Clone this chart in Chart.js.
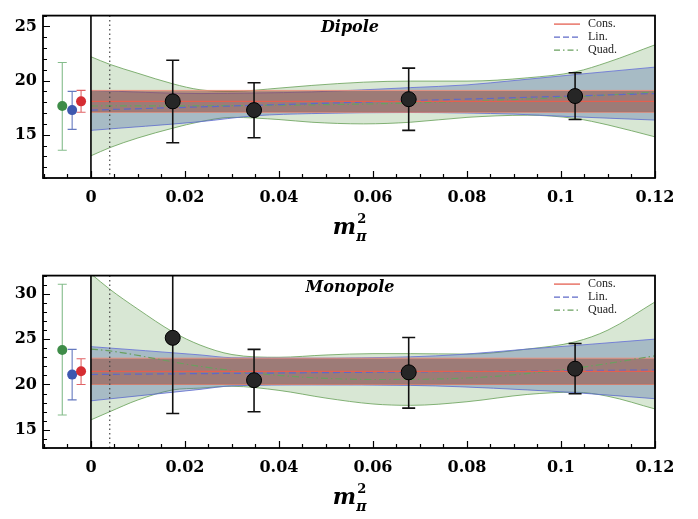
<!DOCTYPE html>
<html><head><meta charset="utf-8">
<script src="https://cdn.jsdelivr.net/npm/chart.js@4.4.0/dist/chart.umd.min.js"></script>
<style>html,body{margin:0;padding:0;background:#fff;}canvas{display:block;}</style>
</head><body>
<canvas id="c1" width="698" height="260"></canvas>
<canvas id="c2" width="698" height="259"></canvas>
<script>
// ---------- data ----------
const xTicks = [0, 0.02, 0.04, 0.06, 0.08, 0.1, 0.12];
const yTicksDipole = [15, 20, 25];
const yTicksMonopole = [15, 20, 25, 30];
const physX = 0.004;           // dotted vertical line
const seriesNames = ['Cons.', 'Lin.', 'Quad.'];
const panelTitles = ['Dipole', 'Monopole'];

// lattice points (black)
const latticeX  = [0.0174, 0.0347, 0.0676, 0.1030];
const dipoleY   = [18.08, 17.27, 18.28, 18.57];
const dipoleLo  = [14.26, 14.72, 15.40, 16.41];
const dipoleHi  = [21.87, 19.80, 21.15, 20.72];
const monoY     = [25.14, 20.47, 21.34, 21.74];
const monoLo    = [16.80, 16.99, 17.39, 18.98];
const monoHi    = [33.50, 23.87, 25.17, 24.52];

// extrapolated values (quad, lin, cons)
const extrapX       = [-0.0061, -0.0040, -0.0021];
const dipoleExtY    = [17.65, 17.27, 18.08];
const dipoleExtLo   = [13.57, 15.49, 17.07];
const dipoleExtHi   = [21.67, 19.00, 19.09];
const monoExtY      = [23.80, 21.09, 21.45];
const monoExtLo     = [16.63, 18.30, 20.00];
const monoExtHi     = [31.04, 23.87, 22.83];

// constant fit bands
const consX        = [0, 0.12];
const dipoleConsMid = [18.08, 18.08];
const dipoleConsLo  = [17.07, 17.07];
const dipoleConsHi  = [19.09, 19.09];
const monoConsMid   = [21.45, 21.45];
const monoConsLo    = [20.00, 20.00];
const monoConsHi    = [22.90, 22.90];

// linear fit bands
const lineMidX      = [0, 0.12];
const dipoleLinMid  = [17.27, 18.80];
const monoLinMid    = [21.10, 21.60];
const dipoleLinX    = [0, 0.0232, 0.035, 0.047, 0.068, 0.08, 0.09, 0.103, 0.12];
const dipoleLinHi   = [19.09, 18.80, 18.85, 18.95, 19.35, 19.60, 20.00, 20.55, 21.24];
const dipoleLinLo   = [15.40, 16.20, 16.75, 16.95, 17.05, 17.00, 16.90, 16.65, 16.35];
const monoLinX      = [0, 0.0232, 0.03, 0.047, 0.068, 0.0785, 0.0928, 0.103, 0.12];
const monoLinHi     = [24.17, 23.26, 22.95, 22.90, 23.05, 23.30, 23.90, 24.30, 25.00];
const monoLinLo     = [18.20, 19.46, 19.85, 19.95, 19.90, 19.75, 19.40, 19.10, 18.43];

// quadratic fit bands
const dipoleQuadX   = [0, 0.004, 0.01, 0.0174, 0.0232, 0.03, 0.04, 0.047, 0.058, 0.068, 0.08, 0.0928, 0.103, 0.11, 0.12];
const dipoleQuadHi  = [22.20, 21.50, 20.67, 19.70, 19.15, 19.00, 19.30, 19.55, 19.85, 19.95, 19.95, 20.25, 20.80, 21.70, 23.30];
const dipoleQuadLo  = [13.05, 13.80, 14.70, 15.60, 16.20, 16.60, 16.40, 16.15, 16.00, 16.15, 16.60, 16.80, 16.50, 15.90, 14.80];
const dipoleQuadMidX = [0, 0.035, 0.068, 0.103, 0.12];
const dipoleQuadMid  = [17.65, 17.70, 17.93, 18.50, 18.94];
const monoQuadX     = [0, 0.004, 0.01, 0.0174, 0.0232, 0.03, 0.04, 0.05, 0.06, 0.068, 0.08, 0.0928, 0.103, 0.11, 0.12];
const monoQuadHi    = [32.20, 30.50, 28.30, 25.80, 24.35, 23.30, 23.00, 23.25, 23.40, 23.40, 23.35, 23.90, 24.70, 26.00, 29.10];
const monoQuadLo    = [16.10, 17.00, 18.30, 19.40, 19.60, 19.80, 19.35, 18.50, 17.85, 17.70, 18.10, 18.90, 19.15, 18.70, 17.30];
const monoQuadMidX  = [0, 0.004, 0.0232, 0.04, 0.06, 0.083, 0.103, 0.12];
const monoQuadMid   = [23.90, 23.70, 22.00, 21.00, 20.55, 20.80, 21.80, 23.15];

// ---------- styles ----------
const COL = {
  consLine: 'rgb(228,95,80)', consFill: 'rgba(150,70,55,0.55)', consEdge: 'rgba(238,145,125,0.9)',
  linLine: 'rgb(95,105,200)', linFill: 'rgba(72,102,168,0.34)', linEdge: 'rgba(105,115,215,0.85)',
  quadLine: 'rgb(105,160,95)', quadFill: 'rgba(110,165,95,0.27)', quadEdge: 'rgba(110,165,95,0.85)',
  consPt: 'rgb(214,45,50)', linPt: 'rgb(62,88,175)', quadPt: 'rgb(62,140,72)',
  consBar: 'rgba(214,45,50,0.75)', linBar: 'rgba(62,88,175,0.8)', quadBar: 'rgba(80,160,90,0.7)'
};
const SERIF = '"DejaVu Serif", serif';

function pts(xs, ys) { return xs.map((x, i) => ({x: x, y: ys[i]})); }

const panelPlugin = {
  id: 'panel',
  beforeDatasetDraw(chart, args) {
    const ds = chart.data.datasets[args.index];
    if (!ds.errLo) return;
    const {ctx, chartArea: a, scales: {x, y}} = chart;
    ctx.save();
    ctx.beginPath(); ctx.rect(a.left, a.top, a.right - a.left, a.bottom - a.top); ctx.clip();
    ctx.lineWidth = ds.barWidth;
    ds.data.forEach((p, i) => {
      ctx.strokeStyle = Array.isArray(ds.barColor) ? ds.barColor[i] : ds.barColor;
      const px = x.getPixelForValue(p.x);
      const lo = y.getPixelForValue(ds.errLo[i]);
      const hi = y.getPixelForValue(ds.errHi[i]);
      ctx.beginPath();
      ctx.moveTo(px, lo); ctx.lineTo(px, hi);
      ctx.moveTo(px - ds.capHalf, lo); ctx.lineTo(px + ds.capHalf, lo);
      ctx.moveTo(px - ds.capHalf, hi); ctx.lineTo(px + ds.capHalf, hi);
      ctx.stroke();
    });
    ctx.restore();
  },
  afterDatasetsDraw(chart) {
    const {ctx, chartArea: a, scales: {x}} = chart;
    ctx.save();
    const x0 = x.getPixelForValue(0);
    ctx.strokeStyle = '#000'; ctx.lineWidth = 1.6;
    ctx.beginPath(); ctx.moveTo(x0, a.top); ctx.lineTo(x0, a.bottom); ctx.stroke();
    const xp = x.getPixelForValue(physX);
    ctx.strokeStyle = '#444'; ctx.lineWidth = 1.2; ctx.setLineDash([1.5, 3]);
    ctx.beginPath(); ctx.moveTo(xp, a.top); ctx.lineTo(xp, a.bottom); ctx.stroke();
    ctx.setLineDash([]);
    ctx.restore();
  },
  afterDraw(chart, args, opts) {
    const {ctx, chartArea: a, scales: {x, y}} = chart;
    ctx.save();
    ctx.strokeStyle = '#000'; ctx.lineWidth = 1.2;
    ctx.beginPath();
    for (let k = -2; k <= 24; k++) {
      const v = k * 0.005;
      if (v < x.min || v > x.max + 1e-9) continue;
      const px = Math.round(x.getPixelForValue(v)) + 0.5;
      const len = (k % 4 === 0) ? 7 : 4;
      ctx.moveTo(px, a.bottom); ctx.lineTo(px, a.bottom - len);
    }
    for (let v = Math.ceil(y.min); v <= y.max; v++) {
      const py = Math.round(y.getPixelForValue(v)) + 0.5;
      const len = (v % 5 === 0) ? 7 : 4;
      ctx.moveTo(a.left, py); ctx.lineTo(a.left + len, py);
    }
    ctx.stroke();
    ctx.lineWidth = 1.8;
    ctx.strokeRect(a.left, a.top, a.right - a.left, a.bottom - a.top);
    ctx.fillStyle = '#000';
    ctx.font = 'bold italic 16px ' + SERIF;
    ctx.textAlign = 'center'; ctx.textBaseline = 'middle';
    ctx.fillText(opts.title, 350, a.top + opts.titleDy);
    const items = [
      {c: COL.consLine, dash: []},
      {c: COL.linLine, dash: [6, 3]},
      {c: COL.quadLine, dash: [6, 3, 1.5, 3]}
    ];
    ctx.font = '12px "Liberation Serif", serif';
    ctx.textAlign = 'left';
    items.forEach((it, i) => {
      const yy = a.top + 8.5 + i * 13;
      ctx.strokeStyle = it.c; ctx.lineWidth = 1.3; ctx.setLineDash(it.dash);
      ctx.beginPath(); ctx.moveTo(554, yy); ctx.lineTo(580, yy); ctx.stroke();
      ctx.setLineDash([]);
      ctx.fillStyle = '#222';
      ctx.fillText(seriesNames[i], 588, yy);
    });
    const cx = (a.left + a.right) / 2;
    const base = a.bottom + 56;
    ctx.fillStyle = '#000';
    ctx.textBaseline = 'alphabetic'; ctx.textAlign = 'left';
    ctx.font = 'italic bold 22px ' + SERIF;
    const mw = ctx.measureText('m').width;
    const startX = cx - (mw + 9) / 2;
    ctx.fillText('m', startX, base);
    ctx.font = 'bold 13px ' + SERIF;
    ctx.fillText('2', startX + mw + 1, base - 11);
    ctx.font = 'italic bold 14px ' + SERIF;
    ctx.fillText('π', startX + mw, base + 7);
    ctx.restore();
  }
};

function makeChart(id, d) {
  const datasets = [
    {type: 'scatter', data: pts(latticeX, d.latY), errLo: d.latLo, errHi: d.latHi,
     barColor: '#111', barWidth: 1.6, capHalf: 6.5,
     pointRadius: 7.5, pointBackgroundColor: 'rgb(38,38,38)', pointBorderColor: '#000', pointBorderWidth: 1, order: 0},
    {type: 'scatter', data: pts(extrapX, d.extY), errLo: d.extLo, errHi: d.extHi,
     barColor: [COL.quadBar, COL.linBar, COL.consBar], barWidth: 1.1, capHalf: 4.5,
     pointRadius: 5, pointBackgroundColor: [COL.quadPt, COL.linPt, COL.consPt], pointBorderWidth: 0, order: 0},
    {type: 'line', data: pts(consX, d.consMid), borderColor: COL.consLine, borderWidth: 1.2, pointRadius: 0, fill: false, order: 1},
    {type: 'line', data: pts(lineMidX, d.linMid), borderColor: COL.linLine, borderWidth: 1.2, borderDash: [7, 4], pointRadius: 0, fill: false, order: 1},
    {type: 'line', data: pts(d.quadMidX, d.quadMid), borderColor: COL.quadLine, borderWidth: 1.2, borderDash: [7, 3, 1.5, 3], pointRadius: 0, fill: false, cubicInterpolationMode: 'monotone', order: 1},
    {type: 'line', data: pts(consX, d.consHi), borderColor: COL.consEdge, borderWidth: 1, pointRadius: 0, fill: '+1', backgroundColor: COL.consFill, order: 2},
    {type: 'line', data: pts(consX, d.consLo), borderColor: COL.consEdge, borderWidth: 1, pointRadius: 0, fill: false, order: 2},
    {type: 'line', data: pts(d.linX, d.linHi), borderColor: COL.linEdge, borderWidth: 1, pointRadius: 0, fill: '+1', backgroundColor: COL.linFill, cubicInterpolationMode: 'monotone', order: 3},
    {type: 'line', data: pts(d.linX, d.linLo), borderColor: COL.linEdge, borderWidth: 1, pointRadius: 0, fill: false, cubicInterpolationMode: 'monotone', order: 3},
    {type: 'line', data: pts(d.quadX, d.quadHi), borderColor: COL.quadEdge, borderWidth: 1, pointRadius: 0, fill: '+1', backgroundColor: COL.quadFill, cubicInterpolationMode: 'monotone', order: 4},
    {type: 'line', data: pts(d.quadX, d.quadLo), borderColor: COL.quadEdge, borderWidth: 1, pointRadius: 0, fill: false, cubicInterpolationMode: 'monotone', order: 4}
  ];
  return new Chart(document.getElementById(id), {
    type: 'scatter',
    data: {datasets},
    plugins: [panelPlugin],
    options: {
      responsive: false, animation: false, devicePixelRatio: 1,
      layout: {padding: {left: 0, right: 43, top: d.padTop, bottom: d.padBottom}},
      plugins: {
        legend: {display: false}, tooltip: {enabled: false},
        panel: {title: d.title, titleDy: 12.5}
      },
      scales: {
        x: {
          type: 'linear', min: -0.0102, max: 0.12,
          grid: {display: false, drawTicks: false}, border: {display: false},
          afterBuildTicks: s => { s.ticks = xTicks.map(v => ({value: v})); },
          afterFit: s => { s.height = 40; },
          ticks: {padding: 10, color: '#000', font: {family: SERIF, weight: 'bold', size: 16},
                  callback: v => String(Number(v.toFixed(3)))}
        },
        y: {
          type: 'linear', min: d.yMin, max: d.yMax,
          grid: {display: false, drawTicks: false}, border: {display: false},
          afterBuildTicks: s => { s.ticks = d.yTicks.map(v => ({value: v})); },
          afterFit: s => { s.width = 43; },
          ticks: {padding: 6, color: '#000', font: {family: SERIF, weight: 'bold', size: 16}}
        }
      }
    }
  });
}

makeChart('c1', {
  title: panelTitles[0], yMin: 11, yMax: 26, yTicks: yTicksDipole, padTop: 3, padBottom: 42,
  latY: dipoleY, latLo: dipoleLo, latHi: dipoleHi,
  extY: dipoleExtY, extLo: dipoleExtLo, extHi: dipoleExtHi,
  consMid: dipoleConsMid, consLo: dipoleConsLo, consHi: dipoleConsHi,
  linMid: dipoleLinMid, linX: dipoleLinX, linHi: dipoleLinHi, linLo: dipoleLinLo,
  quadX: dipoleQuadX, quadHi: dipoleQuadHi, quadLo: dipoleQuadLo,
  quadMidX: dipoleQuadMidX, quadMid: dipoleQuadMid
});
makeChart('c2', {
  title: panelTitles[1], yMin: 13, yMax: 32, yTicks: yTicksMonopole, padTop: 12, padBottom: 31,
  latY: monoY, latLo: monoLo, latHi: monoHi,
  extY: monoExtY, extLo: monoExtLo, extHi: monoExtHi,
  consMid: monoConsMid, consLo: monoConsLo, consHi: monoConsHi,
  linMid: monoLinMid, linX: monoLinX, linHi: monoLinHi, linLo: monoLinLo,
  quadX: monoQuadX, quadHi: monoQuadHi, quadLo: monoQuadLo,
  quadMidX: monoQuadMidX, quadMid: monoQuadMid
});
</script>
</body></html>
